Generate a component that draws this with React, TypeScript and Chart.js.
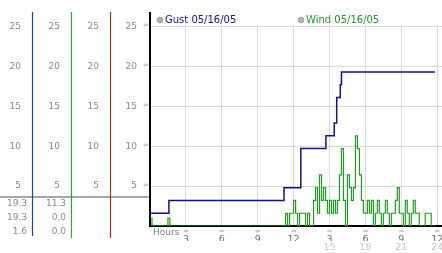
import React, { useEffect, useRef } from 'react';
import { Chart, registerables } from 'chart.js';

Chart.register(...registerables);

// ---- data ----
const gustHours = [0, 1.58, 11.2, 12.6, 14.7, 15.4, 15.6, 15.9, 16.0, 23.8];
const gustMph = [1.6, 3.2, 4.8, 9.7, 11.3, 12.9, 16.1, 17.7, 19.3, 19.3];

const windIntervalHours = 1 / 6; // one reading every 10 minutes
const windMph = [
  1.0, 0, 0, 0, 0, 0, 0, 0, 0, 1.0,
  0, 0, 0, 0, 0, 0, 0, 0, 0, 0,
  0, 0, 0, 0, 0, 0, 0, 0, 0, 0,
  0, 0, 0, 0, 0, 0, 0, 0, 0, 0,
  0, 0, 0, 0, 0, 0, 0, 0, 0, 0,
  0, 0, 0, 0, 0, 0, 0, 0, 0, 0,
  0, 0, 0, 0, 0, 0, 0, 0, 1.6, 0,
  1.6, 1.6, 3.2, 1.6, 0, 1.6, 1.6, 1.6, 0, 1.6,
  0, 0, 3.2, 4.8, 1.6, 6.4, 3.2, 4.8, 3.2, 1.6,
  3.2, 1.6, 3.2, 1.6, 3.2, 6.4, 9.7, 3.2, 0, 6.4,
  4.8, 3.2, 4.8, 11.3, 9.7, 6.4, 3.2, 1.6, 1.6, 3.2,
  1.6, 3.2, 0, 1.6, 3.2, 1.6, 0, 1.6, 3.2, 1.6,
  0, 1.6, 1.6, 3.2, 4.8, 1.6, 1.6, 0, 3.2, 1.6,
  0, 1.6, 3.2, 1.6, 1.6, 0, 0, 0, 1.6, 1.6,
  1.6, 0, 0, 0,
];

const yTickValues = [5, 10, 15, 20, 25];
const xTickValues = [3, 6, 9, 12, 15, 18, 21, 24];
const hourLabels = ['3', '6', '9', '12', '3', '6', '9', '12'];
const dayHourLabels = ['', '', '', '', '15', '18', '21', '24'];
const legendLabels = ['Gust 05/16/05', 'Wind 05/16/05'];

const Y_MAX = 26.7;
const X_MAX = 24.4;

const FONT = 'DejaVu Sans';
const GUST_COLOR = '#12128a';
const WIND_COLOR = '#1f9f1f';

export default function App() {
  const canvasRef = useRef<HTMLCanvasElement | null>(null);

  useEffect(() => {
    const canvas = canvasRef.current;
    if (!canvas) return;

    const gustData = gustHours.map((h, i) => ({ x: h, y: gustMph[i] }));
    const windData = windMph.map((v, i) => ({ x: i * windIntervalHours, y: v }));

    const stats = (arr: number[]) => [
      Math.max(...arr),
      arr[arr.length - 1],
      Math.min(...arr),
    ];

    const fixTicks = (vals: number[]) => (s: any) => {
      s.ticks = vals.map((v) => ({ value: v }));
    };

    const yWidth = (w: number) => (s: any) => {
      s.width = w;
      s.paddingTop = 0;
      s.paddingBottom = 0;
    };
    const xHeight = (h: number) => (s: any) => {
      s.height = h;
      s.paddingLeft = 0;
      s.paddingRight = 0;
    };

    const sideAxis = (weight: number, width: number) => ({
      type: 'linear' as const,
      position: 'left' as const,
      weight,
      min: 0,
      max: Y_MAX,
      afterBuildTicks: fixTicks(yTickValues),
      afterFit: yWidth(width),
      grid: { display: false, drawTicks: false },
      border: { display: false },
      ticks: {
        padding: 12,
        color: '#8a8a8a',
        font: { family: FONT, size: 9 },
      },
    });

    const decor = {
      id: 'decor',
      beforeDatasetsDraw(chart: any) {
        const ctx = chart.ctx;
        const area = chart.chartArea;
        ctx.save();
        // legend band
        ctx.fillStyle = '#ffffff';
        ctx.fillRect(area.left + 1, area.top, area.right - area.left, 12);
        const legendX = [area.left + 10, area.left + 151];
        ctx.font = `10px ${FONT}`;
        ctx.textBaseline = 'middle';
        ctx.textAlign = 'left';
        chart.data.datasets.forEach((ds: any, i: number) => {
          const lx = legendX[i];
          const ly = area.top + 7;
          ctx.beginPath();
          ctx.arc(lx, ly, 2.8, 0, Math.PI * 2);
          ctx.fillStyle = '#b4b4b4';
          ctx.fill();
          ctx.strokeStyle = '#8c8c8c';
          ctx.lineWidth = 0.8;
          ctx.stroke();
          ctx.fillStyle = ds.borderColor;
          ctx.fillText(ds.label, lx + 5, ly + 0.5);
        });
        ctx.restore();
      },
      afterDraw(chart: any) {
        const ctx = chart.ctx;
        const area = chart.chartArea;
        const sx = chart.scales.x;
        const sy = chart.scales.y;
        ctx.save();
        // separator line under the tick columns
        ctx.strokeStyle = '#a6a6a6';
        ctx.lineWidth = 2;
        ctx.beginPath();
        ctx.moveTo(0, 197);
        ctx.lineTo(area.left - 1, 197);
        ctx.stroke();
        // coloured column lines
        const cols = [
          { s: chart.scales.y1, c: '#1f44a8', b: 236 },
          { s: chart.scales.y2, c: '#2fa52f', b: 238 },
          { s: chart.scales.y3, c: '#b22a2a', b: 238 },
        ];
        cols.forEach(({ s, c, b }) => {
          const x = Math.round(s.right) - 0.5;
          ctx.strokeStyle = c;
          ctx.lineWidth = 1.2;
          ctx.beginPath();
          ctx.moveTo(x, area.top - 1);
          ctx.lineTo(x, b);
          ctx.stroke();
        });
        // statistics (max / current / min)
        ctx.font = `9px ${FONT}`;
        ctx.fillStyle = '#8a8a8a';
        ctx.textAlign = 'right';
        ctx.textBaseline = 'middle';
        const rows = [204, 218, 232];
        [stats(gustMph), stats(windMph)].forEach((st, ci) => {
          const axis = ci === 0 ? chart.scales.y1 : chart.scales.y2;
          st.forEach((v, ri) => {
            ctx.fillText(v.toFixed(1), axis.right - 6, rows[ri]);
          });
        });
        // small tick glyphs
        ctx.font = `7px ${FONT}`;
        ctx.fillStyle = '#a0a0a0';
        ctx.textAlign = 'center';
        yTickValues.forEach((v) => {
          ctx.fillText('≈', area.left - 4, sy.getPixelForValue(v) - 1);
        });
        xTickValues.forEach((v) => {
          ctx.fillText('≈', sx.getPixelForValue(v), area.bottom + 5);
        });
        // axis caption
        ctx.font = `9px ${FONT}`;
        ctx.fillStyle = '#7a7a7a';
        ctx.textAlign = 'left';
        ctx.fillText('Hours', area.left + 3, area.bottom + 6.5);
        ctx.restore();
      },
    };

    const chart = new Chart(canvas, {
      type: 'line',
      data: {
        datasets: [
          {
            label: legendLabels[0],
            data: gustData,
            borderColor: GUST_COLOR,
            borderWidth: 1.5,
            pointRadius: 0,
            stepped: true,
            fill: false,
          },
          {
            label: legendLabels[1],
            data: windData,
            borderColor: WIND_COLOR,
            borderWidth: 1.2,
            pointRadius: 0,
            stepped: true,
            fill: false,
          },
        ],
      },
      options: {
        animation: false,
        responsive: false,
        devicePixelRatio: 1,
        parsing: false as any,
        layout: { padding: { top: 13, left: 0, right: 0, bottom: 0 } },
        plugins: {
          legend: { display: false },
          tooltip: { enabled: false },
        },
        scales: {
          x: {
            type: 'linear',
            position: 'bottom',
            min: 0,
            max: X_MAX,
            afterBuildTicks: fixTicks(xTickValues),
            afterFit: xHeight(15),
            grid: { color: '#dadada', lineWidth: 1, drawTicks: false },
            border: { color: '#000000', width: 2 },
            ticks: {
              padding: 8,
              maxRotation: 0,
              autoSkip: false,
              color: '#6e6e6e',
              font: { family: FONT, size: 9.5 },
              callback: (v: any) => {
                const i = xTickValues.indexOf(Number(v));
                return i >= 0 ? hourLabels[i] : '';
              },
            },
          },
          x2: {
            type: 'linear',
            position: 'bottom',
            min: 0,
            max: X_MAX,
            afterBuildTicks: fixTicks(xTickValues),
            afterFit: xHeight(12),
            grid: { display: false, drawTicks: false },
            border: { display: false },
            ticks: {
              padding: 1,
              maxRotation: 0,
              autoSkip: false,
              color: '#c8c8c8',
              font: { family: FONT, size: 9.5 },
              callback: (v: any) => {
                const i = xTickValues.indexOf(Number(v));
                return i >= 0 ? dayHourLabels[i] : '';
              },
            },
          },
          y1: sideAxis(3, 33),
          y2: sideAxis(2, 39),
          y3: sideAxis(1, 39),
          y: {
            type: 'linear',
            position: 'left',
            weight: 0,
            min: 0,
            max: Y_MAX,
            afterBuildTicks: fixTicks(yTickValues),
            afterFit: yWidth(39),
            grid: { color: '#dadada', lineWidth: 1, drawTicks: false },
            border: { color: '#000000', width: 2 },
            ticks: {
              padding: 13,
              color: '#8a8a8a',
              font: { family: FONT, size: 9 },
            },
          },
        },
      } as any,
      plugins: [decor],
    });

    return () => chart.destroy();
  }, []);

  return (
    <div style={{ position: 'fixed', left: 0, top: 0, width: 442, height: 253, background: '#fff' }}>
      <canvas ref={canvasRef} width={442} height={253} style={{ display: 'block' }} />
    </div>
  );
}
